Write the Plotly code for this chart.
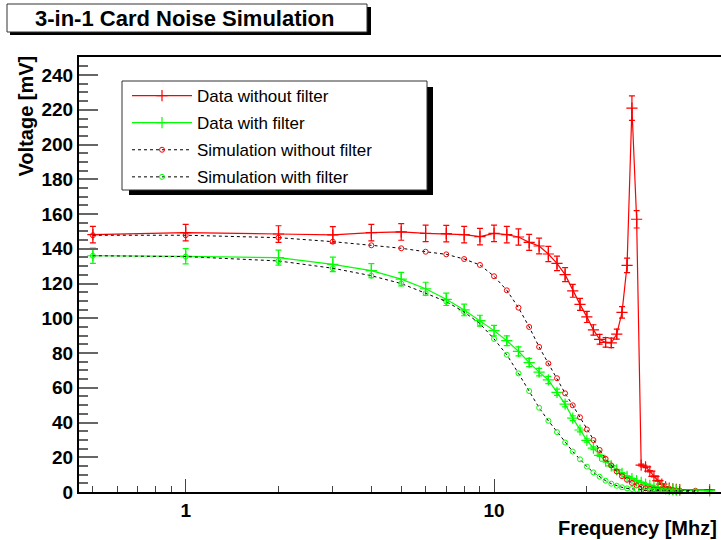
import plotly.graph_objects as go

# ---------------- data ----------------
freq_data = [0.5, 1, 2, 3, 4, 5, 6, 7, 8, 9, 10, 11, 12, 13, 14, 15, 16, 17, 18, 19, 20,
             21, 22, 23, 24, 25, 26, 27, 28, 29, 30, 31, 32, 33, 34, 35, 36, 37, 38, 39, 40, 50]
volt_data_nofilter = [148.2, 149.3, 148.5, 148.0, 149.3, 149.7, 148.9, 148.7, 148.2, 147.0, 148.9,
                      148.2, 146.8, 143.7, 141.6, 137.0, 131.6, 125.1, 115.8, 108.0, 100.8,
                      93.3, 87.9, 86.1, 85.8, 90.9, 103.4, 130.4, 221.0, 157.0, 15.5,
                      14.5, 12.0, 9.0, 6.5, 4.5, 3.0, 2.2, 1.8, 1.5, 1.4, 1.2]
volt_data_filter = [136.0, 135.7, 134.9, 131.0, 127.4, 122.5, 117.0, 110.9, 104.8, 98.6, 92.9,
                    87.1, 81.0, 74.5, 69.0, 64.5, 57.4, 50.6, 42.5, 35.7, 29.7,
                    25.2, 21.1, 17.7, 15.0, 12.7, 10.8, 9.0, 7.7, 6.5, 5.5,
                    4.6, 3.8, 3.2, 2.6, 2.2, 1.8, 1.5, 1.3, 1.1, 1.0, 0.6]
data_err_percent = 3.2

freq_sim = [0.5, 1, 2, 3, 4, 5, 6, 7, 8, 9, 10, 11, 12, 13, 14, 15, 16, 17, 18, 19, 20,
            21, 22, 23, 24, 25, 26, 27, 28, 29, 30, 31, 32, 33, 34, 35, 36, 37, 38, 39, 40, 45]
volt_sim_nofilter = [147.8, 147.8, 146.4, 144.1, 142.0, 140.3, 138.3, 136.8, 134.1, 130.7, 124.2,
                     116.1, 106.1, 95.0, 83.5, 74.0, 65.5, 56.8, 49.9, 43.0, 36.0,
                     29.9, 24.2, 19.1, 15.3, 11.8, 9.1, 7.0, 5.2, 3.8, 2.8,
                     2.1, 1.7, 1.4, 1.2, 1.1, 1.0, 0.9, 0.9, 0.8, 0.8, 0.7]
volt_sim_filter = [136.0, 135.5, 133.0, 128.8, 124.5, 120.0, 114.4, 109.6, 103.6, 96.9, 88.1,
                   79.0, 68.3, 58.1, 48.5, 41.0, 34.5, 28.5, 23.3, 18.8, 14.6,
                   11.3, 8.8, 6.5, 4.8, 3.6, 2.7, 2.1, 1.7, 1.4, 1.2,
                   1.0, 0.9, 0.8, 0.7, 0.6, 0.6, 0.5, 0.5, 0.5, 0.5, 0.4]

x_major_ticks = [1, 10]
x_major_labels = ["1", "10"]
x_minor_ticks = [0.5, 0.6, 0.7, 0.8, 0.9, 2, 3, 4, 5, 6, 7, 8, 9, 20, 30, 40, 50]
y_tick_vals = list(range(0, 241, 20))

title_text = "3-in-1 Card Noise Simulation"
x_title = "Frequency [Mhz]"
y_title = "Voltage [mV]"

# ---------------- layout geometry ----------------
W, H = 721, 540
L, R, T, B = 79, 0, 57, 48
FONT = "Liberation Sans, Arial, Helvetica, sans-serif"


def px(x):
    return (x - L) / (W - L - R)


def py(y):
    return (H - B - y) / (H - T - B)


RED = "rgb(255,0,0)"
GREEN = "rgb(0,255,0)"

fig = go.Figure()

fig.add_trace(go.Scatter(
    x=freq_data, y=volt_data_nofilter, mode="lines+markers", name="Data without filter",
    legendgroup="a",
    line=dict(color=RED, width=1.2),
    marker=dict(symbol="cross-thin", size=8, line=dict(color=RED, width=1.2), color=RED),
    error_y=dict(type="percent", value=data_err_percent, color=RED, thickness=1.2, width=3),
    cliponaxis=False,
))
fig.add_trace(go.Scatter(
    x=freq_data, y=volt_data_filter, mode="lines+markers", name="Data with filter",
    legendgroup="b",
    line=dict(color=GREEN, width=1.2),
    marker=dict(symbol="cross-thin", size=8, line=dict(color=GREEN, width=1.2), color=GREEN),
    error_y=dict(type="percent", value=data_err_percent, color=GREEN, thickness=1.2, width=3),
    cliponaxis=False,
))
fig.add_trace(go.Scatter(
    x=freq_sim, y=volt_sim_nofilter, mode="lines+markers", name="Simulation without filter",
    legendgroup="c",
    line=dict(color="black", width=1, dash="3px,3px"),
    marker=dict(symbol="circle-open", size=5, line=dict(color=RED, width=1), color=RED),
    cliponaxis=False,
))
fig.add_trace(go.Scatter(
    x=freq_sim, y=volt_sim_filter, mode="lines+markers", name="Simulation with filter",
    legendgroup="d",
    line=dict(color="black", width=1, dash="3px,3px"),
    marker=dict(symbol="circle-open", size=5, line=dict(color=GREEN, width=1), color=GREEN),
    cliponaxis=False,
))

shapes = [
    # title box shadow + box
    dict(type="rect", xref="paper", yref="paper", x0=px(10), x1=px(371), y0=py(7), y1=py(35),
         fillcolor="black", line=dict(width=0), layer="below"),
    dict(type="rect", xref="paper", yref="paper", x0=px(7), x1=px(367), y0=py(4), y1=py(32),
         fillcolor="white", line=dict(color="#333", width=1), layer="below"),
    # legend shadow + box
    dict(type="rect", xref="paper", yref="paper", x0=px(129), x1=px(433), y0=py(87), y1=py(195),
         fillcolor="black", line=dict(width=0), layer="below"),
    dict(type="rect", xref="paper", yref="paper", x0=px(122), x1=px(427), y0=py(81), y1=py(190),
         fillcolor="white", line=dict(color="#333", width=1), layer="below"),
]

annotations = [
    dict(text=title_text, xref="paper", yref="paper", x=px(185), y=py(19), xanchor="center",
         yanchor="middle", showarrow=False, font=dict(family=FONT, size=22, color="black", weight="bold")),
    dict(text=y_title, xref="paper", yref="paper", x=px(25), y=py(54), xanchor="center",
         yanchor="top", textangle=-90, showarrow=False,
         font=dict(family=FONT, size=20, color="black", weight="bold")),
    dict(text=x_title, xref="paper", yref="paper", x=px(719), y=py(528), xanchor="right",
         yanchor="middle", showarrow=False, font=dict(family=FONT, size=20, color="black", weight="bold")),
]

fig.update_layout(
    width=W, height=H,
    margin=dict(l=L, r=R, t=T, b=B, pad=0),
    paper_bgcolor="white", plot_bgcolor="white",
    shapes=shapes, annotations=annotations,
    showlegend=True,
    legend=dict(x=px(127), y=py(78), xanchor="left", yanchor="top",
                bgcolor="rgba(0,0,0,0)", borderwidth=0, tracegroupgap=2,
                itemwidth=60,
                font=dict(family=FONT, size=17, color="black")),
    xaxis=dict(type="log", range=[-0.346, 1.736], showgrid=False, zeroline=False,
               showline=True, linecolor="black", linewidth=2, mirror=True,
               tickmode="array", tickvals=x_major_ticks, ticktext=x_major_labels,
               ticks="inside", ticklen=13, tickwidth=1, tickcolor="#444",
               tickfont=dict(family=FONT, size=19, color="black", weight="bold"),
               minor=dict(tickmode="array", tickvals=x_minor_ticks, ticks="inside",
                          ticklen=6, tickwidth=1, tickcolor="#444", showgrid=False)),
    yaxis=dict(range=[0, 250.4], showgrid=False, zeroline=False,
               showline=True, linecolor="black", linewidth=2, mirror=False,
               tickmode="array", tickvals=y_tick_vals,
               ticks="inside", ticklen=19, tickwidth=1.5, tickcolor="#666",
               tickfont=dict(family=FONT, size=19, color="black", weight="bold"),
               minor=dict(dtick=5, ticks="inside", ticklen=9, tickwidth=1.5,
                          tickcolor="#666", showgrid=False)),
)

fig.write_html("out.html", config={"displayModeBar": False},
               post_script="document.body.style.margin='0px';document.body.style.padding='0px';")
